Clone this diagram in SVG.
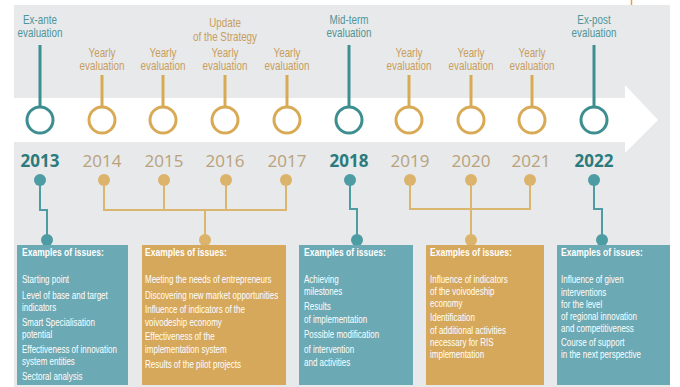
<svg xmlns="http://www.w3.org/2000/svg" width="680" height="387" viewBox="0 0 680 387">
<style>
.lbl{font-family:"Liberation Sans",Arial,sans-serif;font-size:12px;text-anchor:middle}
.lt{fill:#4f9597}
.lg{fill:#c89d5e}
.stT{stroke:#3d8e90;stroke-width:3;fill:none}
.stG{stroke:#d8aa55;stroke-width:3;fill:none}
.ring{fill:#ffffff;stroke-width:3}
.yr{font-family:"Open Sans","Liberation Sans",sans-serif;font-size:17px;text-anchor:middle}
.yT{fill:#2b7b7d;font-weight:bold}
.yG{fill:#b9a17c}
.dT{fill:#4e9ca3}
.dG{fill:#dcb36a}
.cT{stroke:#4e9ca3;stroke-width:2;fill:none}
.cG{stroke:#dab66e;stroke-width:2;fill:none}
.bT{fill:#6ba9b4}
.bG{fill:#d6a85c}
.ttl{font-family:"Liberation Sans",Arial,sans-serif;font-size:11.5px;font-weight:bold;fill:#ffffff}
.itm{font-family:"Liberation Sans",Arial,sans-serif;font-size:10.8px;fill:#ffffff}
</style>
<rect x="0" y="0" width="680" height="387" fill="#ffffff"/>
<rect x="14" y="5" width="656" height="382" fill="#e7e9eb"/>
<path d="M14 98 H625 V85 L658 120 L625 153 V142 H14 Z" fill="#ffffff"/>
<line x1="631.5" y1="0" x2="631.5" y2="5" stroke="#f29a3c" stroke-width="1.5"/>

<g id="y2013">
<g transform="translate(40 0) scale(0.82 1)"><text class="lbl lt" x="0" y="24">Ex-ante</text><text class="lbl lt" x="0" y="37">evaluation</text></g>
<line class="stT" x1="40" y1="45" x2="40" y2="106"/>
<circle class="ring" cx="40" cy="120" r="13" stroke="#3d8e90"/>
<text class="yr yT" x="40" y="167">2013</text>
<circle class="dT" cx="40" cy="180" r="6"/>
</g>
<g id="y2014">
<g transform="translate(102 0) scale(0.82 1)"><text class="lbl lg" x="0" y="57">Yearly</text><text class="lbl lg" x="0" y="70">evaluation</text></g>
<line class="stG" x1="102" y1="75" x2="102" y2="106"/>
<circle class="ring" cx="102" cy="120" r="13" stroke="#d8aa55"/>
<text class="yr yG" x="102" y="167">2014</text>
<circle class="dG" cx="104" cy="180" r="6"/>
</g>
<g id="y2015">
<g transform="translate(163 0) scale(0.82 1)"><text class="lbl lg" x="0" y="57">Yearly</text><text class="lbl lg" x="0" y="70">evaluation</text></g>
<line class="stG" x1="163" y1="75" x2="163" y2="106"/>
<circle class="ring" cx="163" cy="120" r="13" stroke="#d8aa55"/>
<text class="yr yG" x="164" y="167">2015</text>
<circle class="dG" cx="164" cy="180" r="6"/>
</g>
<g id="y2016">
<g transform="translate(225 0) scale(0.82 1)"><text class="lbl lg" x="0" y="27">Update</text><text class="lbl lg" x="0" y="41">of the Strategy</text><text class="lbl lg" x="0" y="57">Yearly</text><text class="lbl lg" x="0" y="70">evaluation</text></g>
<line class="stG" x1="225" y1="75" x2="225" y2="106"/>
<circle class="ring" cx="225" cy="120" r="13" stroke="#d8aa55"/>
<text class="yr yG" x="225" y="167">2016</text>
<circle class="dG" cx="226" cy="180" r="6"/>
</g>
<g id="y2017">
<g transform="translate(287 0) scale(0.82 1)"><text class="lbl lg" x="0" y="57">Yearly</text><text class="lbl lg" x="0" y="70">evaluation</text></g>
<line class="stG" x1="287" y1="75" x2="287" y2="106"/>
<circle class="ring" cx="287" cy="120" r="13" stroke="#d8aa55"/>
<text class="yr yG" x="287" y="167">2017</text>
<circle class="dG" cx="286" cy="180" r="6"/>
</g>
<g id="y2018">
<g transform="translate(349 0) scale(0.82 1)"><text class="lbl lt" x="0" y="24">Mid-term</text><text class="lbl lt" x="0" y="37">evaluation</text></g>
<line class="stT" x1="349" y1="45" x2="349" y2="106"/>
<circle class="ring" cx="349" cy="120" r="13" stroke="#3d8e90"/>
<text class="yr yT" x="349" y="167">2018</text>
<circle class="dT" cx="350" cy="180" r="6"/>
</g>
<g id="y2019">
<g transform="translate(409 0) scale(0.82 1)"><text class="lbl lg" x="0" y="57">Yearly</text><text class="lbl lg" x="0" y="70">evaluation</text></g>
<line class="stG" x1="409" y1="75" x2="409" y2="106"/>
<circle class="ring" cx="409" cy="120" r="13" stroke="#d8aa55"/>
<text class="yr yG" x="410" y="167">2019</text>
<circle class="dG" cx="410" cy="180" r="6"/>
</g>
<g id="y2020">
<g transform="translate(471 0) scale(0.82 1)"><text class="lbl lg" x="0" y="57">Yearly</text><text class="lbl lg" x="0" y="70">evaluation</text></g>
<line class="stG" x1="471" y1="75" x2="471" y2="106"/>
<circle class="ring" cx="471" cy="120" r="13" stroke="#d8aa55"/>
<text class="yr yG" x="471" y="167">2020</text>
<circle class="dG" cx="471" cy="180" r="6"/>
</g>
<g id="y2021">
<g transform="translate(532 0) scale(0.82 1)"><text class="lbl lg" x="0" y="57">Yearly</text><text class="lbl lg" x="0" y="70">evaluation</text></g>
<line class="stG" x1="532" y1="75" x2="532" y2="106"/>
<circle class="ring" cx="532" cy="120" r="13" stroke="#d8aa55"/>
<text class="yr yG" x="531" y="167">2021</text>
<circle class="dG" cx="530" cy="180" r="6"/>
</g>
<g id="y2022">
<g transform="translate(594 0) scale(0.82 1)"><text class="lbl lt" x="0" y="24">Ex-post</text><text class="lbl lt" x="0" y="37">evaluation</text></g>
<line class="stT" x1="594" y1="45" x2="594" y2="106"/>
<circle class="ring" cx="594" cy="120" r="13" stroke="#3d8e90"/>
<text class="yr yT" x="594" y="167">2022</text>
<circle class="dT" cx="594" cy="180" r="6"/>
</g>

<g id="connectors">
<path class="cT" d="M40 180 V210 H47 V240"/>
<path class="cG" d="M104 180 V210 M164 180 V210 M226 180 V210 M286 180 V210 M103 210 H287 M205 210 V240"/>
<path class="cT" d="M350 180 V209 H357 V240"/>
<path class="cG" d="M410 180 V209 M471 180 V240 M530 180 V209 M409 209 H531"/>
<path class="cT" d="M594 180 V209 H602 V240"/>
<circle class="dT" cx="47" cy="240" r="6"/>
<circle class="dG" cx="205" cy="240" r="6"/>
<circle class="dT" cx="357" cy="240" r="6"/>
<circle class="dG" cx="471" cy="240" r="6"/>
<circle class="dT" cx="602" cy="240" r="6"/>
</g>

<g id="box2013">
<rect class="bT" x="17" y="245" width="111" height="140"/>
<g transform="translate(22 0) scale(0.74 1)">
<text class="ttl" x="0" y="256">Examples of issues:</text>
<text class="itm" x="0" y="283.5">Starting point</text>
<text class="itm" x="0" y="299">Level of base and target</text>
<text class="itm" x="0" y="311">indicators</text>
<text class="itm" x="0" y="326.5">Smart Specialisation</text>
<text class="itm" x="0" y="338.5">potential</text>
<text class="itm" x="0" y="353.5">Effectiveness of innovation</text>
<text class="itm" x="0" y="365.5">system entities</text>
<text class="itm" x="0" y="380.5">Sectoral analysis</text>
</g>
</g>
<g id="box2014-2017">
<rect class="bG" x="142" y="245" width="144" height="140"/>
<g transform="translate(145 0) scale(0.74 1)">
<text class="ttl" x="0" y="256">Examples of issues:</text>
<text class="itm" x="0" y="283.5">Meeting the needs of entrepreneurs</text>
<text class="itm" x="0" y="299">Discovering new market opportunities</text>
<text class="itm" x="0" y="313.5">Influence of indicators of the</text>
<text class="itm" x="0" y="326">voivodeship economy</text>
<text class="itm" x="0" y="340.5">Effectiveness of the</text>
<text class="itm" x="0" y="353">implementation system</text>
<text class="itm" x="0" y="368.5">Results of the pilot projects</text>
</g>
</g>
<g id="box2018">
<rect class="bT" x="299" y="245" width="114" height="140"/>
<g transform="translate(304 0) scale(0.74 1)">
<text class="ttl" x="0" y="256">Examples of issues:</text>
<text class="itm" x="0" y="283.5">Achieving</text>
<text class="itm" x="0" y="295.5">milestones</text>
<text class="itm" x="0" y="310.5">Results</text>
<text class="itm" x="0" y="323">of implementation</text>
<text class="itm" x="0" y="338.5">Possible modification</text>
<text class="itm" x="0" y="353.5">of intervention</text>
<text class="itm" x="0" y="366">and activities</text>
</g>
</g>
<g id="box2019-2021">
<rect class="bG" x="426" y="245" width="118" height="140"/>
<g transform="translate(430 0) scale(0.74 1)">
<text class="ttl" x="0" y="256">Examples of issues:</text>
<text class="itm" x="0" y="283.5">Influence of indicators</text>
<text class="itm" x="0" y="295.5">of the voivodeship</text>
<text class="itm" x="0" y="307.5">economy</text>
<text class="itm" x="0" y="321.5">Identification</text>
<text class="itm" x="0" y="334">of additional activities</text>
<text class="itm" x="0" y="346.5">necessary for RIS</text>
<text class="itm" x="0" y="358.5">implementation</text>
</g>
</g>
<g id="box2022">
<rect class="bT" x="557" y="245" width="113" height="140"/>
<g transform="translate(561 0) scale(0.74 1)">
<text class="ttl" x="0" y="256">Examples of issues:</text>
<text class="itm" x="0" y="283.5">Influence of given</text>
<text class="itm" x="0" y="296">interventions</text>
<text class="itm" x="0" y="308">for the level</text>
<text class="itm" x="0" y="320">of regional innovation</text>
<text class="itm" x="0" y="332">and competitiveness</text>
<text class="itm" x="0" y="346.5">Course of support</text>
<text class="itm" x="0" y="358.5">in the next perspective</text>
</g>
</g>
</svg>
